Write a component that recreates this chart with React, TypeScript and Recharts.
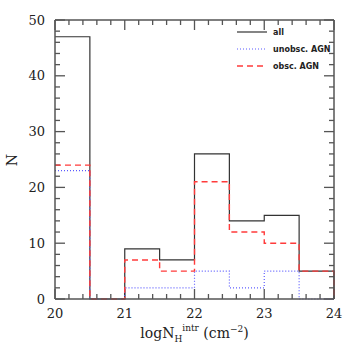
import { ComposedChart, Line, XAxis, YAxis, Legend, ReferenceLine } from "recharts";

const binEdges = [20, 20.5, 21, 21.5, 22, 22.5, 23, 23.5, 24];
const allCounts = [47, 0, 9, 7, 26, 14, 15, 5];
const unobscCounts = [23, 0, 2, 2, 5, 2, 5, 0];
const obscCounts = [24, 0, 7, 5, 21, 12, 10, 5];

const xTicks = [
  20, 20.2, 20.4, 20.6, 20.8, 21, 21.2, 21.4, 21.6, 21.8, 22, 22.2, 22.4, 22.6, 22.8,
  23, 23.2, 23.4, 23.6, 23.8, 24,
];
const yTicks = [0, 2, 4, 6, 8, 10, 12, 14, 16, 18, 20, 22, 24, 26, 28, 30, 32, 34, 36, 38, 40, 42, 44, 46, 48, 50];

// axes: "b"/"l" are bottom/left, "t"/"r" are the mirrored frame axes (same domains)
const SERIES = [
  { key: "all", name: "all", color: "#333", dash: undefined as string | undefined, width: 1.2, xId: "b", yId: "l" },
  { key: "unobsc", name: "unobsc. AGN", color: "#5b5bff", dash: "1 2", width: 1.2, xId: "b", yId: "l" },
  { key: "obsc", name: "obsc. AGN", color: "#ff3b3b", dash: "6 4", width: 1.4, xId: "t", yId: "r" },
];

// step rows: one per bin edge, last edge drops back to zero
const rows = binEdges.map((x, i) => ({
  x,
  all: i < allCounts.length ? allCounts[i] : 0,
  unobsc: i < unobscCounts.length ? unobscCounts[i] : 0,
  obsc: i < obscCounts.length ? obscCounts[i] : 0,
}));

const AXIS = "#555";
const FONT = "'DejaVu Serif', serif";
const TW = 1.3; // tick thickness

const isMajorX = (v: number) => Math.abs(v - Math.round(v)) < 1e-6;
const isMajorY = (v: number) => v % 10 === 0;

// labels only; the tick marks themselves come from the reference lines below
const BottomLabel = (p: any) =>
  isMajorX(p.payload.value) ? (
    <text x={p.x} y={p.y + 19} textAnchor="middle" fontSize={13} fontFamily={FONT} fill="#222">
      {Math.round(p.payload.value)}
    </text>
  ) : (
    <g />
  );

const LeftLabel = (p: any) =>
  isMajorY(p.payload.value) ? (
    <text x={p.x - 10} y={p.y} dy="0.36em" textAnchor="end" fontSize={13} fontFamily={FONT} fill="#222">
      {p.payload.value}
    </text>
  ) : (
    <g />
  );

// inward tick marks at both ends of a vertical reference line (bottom + top frame)
const XTickMarks = ({ viewBox, major }: any) => {
  const len = major ? 10 : 5;
  const { x, y, height } = viewBox;
  return (
    <g>
      <rect x={x - TW / 2} y={y + height - len} width={TW} height={len} fill={AXIS} />
      <rect x={x - TW / 2} y={y} width={TW} height={len} fill={AXIS} />
    </g>
  );
};

// inward tick marks at both ends of a horizontal reference line (left + right frame)
const YTickMarks = ({ viewBox, major }: any) => {
  const len = major ? 10 : 5;
  const { x, y, width } = viewBox;
  return (
    <g>
      <rect x={x} y={y - TW / 2} width={len} height={TW} fill={AXIS} />
      <rect x={x + width - len} y={y - TW / 2} width={len} height={TW} fill={AXIS} />
    </g>
  );
};

const XTitle = ({ viewBox }: any) => {
  const cx = viewBox.x + viewBox.width / 2;
  return (
    <text x={cx} y={338} textAnchor="middle" fontSize={14} fontFamily={FONT} fill="#222">
      logN
      <tspan fontSize={9} dy={4}>H</tspan>
      <tspan fontSize={9} dy={-11}>intr</tspan>
      <tspan fontSize={14} dy={7}> (cm</tspan>
      <tspan fontSize={9} dy={-6}>−2</tspan>
      <tspan fontSize={14} dy={6}>)</tspan>
    </text>
  );
};

const YTitle = () => (
  <text x={17} y={160} textAnchor="middle" fontSize={14} fontFamily={FONT} fill="#222" transform="rotate(-90 17 160)">
    N
  </text>
);

const LegendBox = () => (
  <div style={{ display: "flex", flexDirection: "column", gap: 3 }}>
    {SERIES.map((s) => (
      <div key={s.key} style={{ display: "flex", alignItems: "center", height: 14 }}>
        <svg width={30} height={6} style={{ marginRight: 6 }}>
          <line x1={0} x2={30} y1={3} y2={3} stroke={s.color} strokeWidth={s.width} strokeDasharray={s.dash} />
        </svg>
        <span style={{ fontSize: 8, fontFamily: "'DejaVu Sans', sans-serif", fontWeight: 700, color: "#222" }}>
          {s.name}
        </span>
      </div>
    ))}
  </div>
);

export default function App() {
  return (
    <div style={{ position: "absolute", left: 0, top: 0 }}>
      <ComposedChart width={354} height={354} data={rows} margin={{ top: 19, right: 19, bottom: 0, left: 0 }}>
        <XAxis
          xAxisId="b"
          dataKey="x"
          type="number"
          domain={[20, 24]}
          ticks={xTicks}
          interval={0}
          height={55}
          tickSize={0}
          tickMargin={0}
          tickLine={false}
          axisLine={{ stroke: AXIS, strokeWidth: 1.5 }}
          tick={(p: any) => <BottomLabel {...p} />}
          label={<XTitle />}
        />
        <XAxis
          xAxisId="t"
          dataKey="x"
          orientation="top"
          type="number"
          domain={[20, 24]}
          height={1}
          tick={false}
          tickLine={false}
          axisLine={{ stroke: AXIS, strokeWidth: 1.5 }}
        />
        <YAxis
          yAxisId="l"
          type="number"
          domain={[0, 50]}
          ticks={yTicks}
          interval={0}
          width={55}
          tickSize={0}
          tickMargin={0}
          tickLine={false}
          axisLine={{ stroke: AXIS, strokeWidth: 1.5 }}
          tick={(p: any) => <LeftLabel {...p} />}
          label={<YTitle />}
        />
        <YAxis
          yAxisId="r"
          orientation="right"
          type="number"
          domain={[0, 50]}
          width={1}
          tick={false}
          tickLine={false}
          axisLine={{ stroke: AXIS, strokeWidth: 1.5 }}
        />
        {xTicks.map((v) => (
          <ReferenceLine
            key={`xt${v}`}
            xAxisId="b"
            yAxisId="l"
            x={v}
            stroke="transparent"
            label={{ content: (p: any) => <XTickMarks {...p} major={isMajorX(v)} /> }}
          />
        ))}
        {yTicks.map((v) => (
          <ReferenceLine
            key={`yt${v}`}
            xAxisId="b"
            yAxisId="l"
            y={v}
            stroke="transparent"
            label={{ content: (p: any) => <YTickMarks {...p} major={isMajorY(v)} /> }}
          />
        ))}
        <Legend
          layout="horizontal"
          verticalAlign="middle"
          align="center"
          content={() => <LegendBox />}
          wrapperStyle={{ position: "absolute", left: 237, top: 25, width: 110 }}
        />
        {SERIES.map((s) => (
          <Line
            key={s.key}
            xAxisId={s.xId}
            yAxisId={s.yId}
            type="stepAfter"
            dataKey={s.key}
            name={s.name}
            stroke={s.color}
            strokeWidth={s.width}
            strokeDasharray={s.dash}
            dot={false}
            activeDot={false}
            isAnimationActive={false}
          />
        ))}
      </ComposedChart>
    </div>
  );
}
